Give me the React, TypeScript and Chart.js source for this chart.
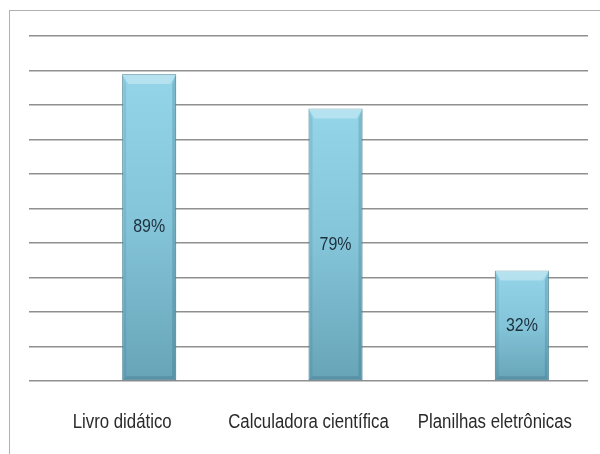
import React, { useEffect, useRef } from "react";
import { Chart, registerables } from "chart.js";

Chart.register(...registerables);

// Categories and percentages shown on the chart
const categories = ["Livro didático", "Calculadora científica", "Planilhas eletrônicas"];
const percentages = [89, 79, 32];
// Empty leading series: pushes each visible bar to the right half of its category slot
const leadingGap: (number | null)[] = [null, null, null];

const Y_MIN = 0;
const Y_MAX = 100;
const Y_STEP = 10;

const FONT = "'Liberation Sans', Arial, sans-serif";
// Horizontal squeeze applied to text, giving a narrow typeface look
const TEXT_SQUEEZE = 0.84;

function drawNarrowText(
  ctx: CanvasRenderingContext2D,
  text: string,
  x: number,
  y: number,
  size: number,
  color: string,
  baseline: CanvasTextBaseline
) {
  ctx.save();
  ctx.translate(x, y);
  ctx.scale(TEXT_SQUEEZE, 1);
  ctx.font = `${size}px ${FONT}`;
  ctx.fillStyle = color;
  ctx.textAlign = "center";
  ctx.textBaseline = baseline;
  ctx.fillText(text, 0, 0);
  ctx.restore();
}

// Bevelled bar edges, the value in the middle of each bar and the category names
const bevelAndLabels = {
  id: "bevelAndLabels",
  afterDatasetsDraw(chart: any) {
    const meta = chart.getDatasetMeta(1);
    const ctx = chart.ctx as CanvasRenderingContext2D;
    meta.data.forEach((bar: any, i: number) => {
      const { x, y, base, width } = bar.getProps(["x", "y", "base", "width"], true);
      const left = x - width / 2;
      const right = x + width / 2;
      const top = y;
      const bottom = base;
      const bt = 10; // top bevel depth
      const bs = 4; // side bevel depth
      ctx.save();
      // top highlight
      ctx.fillStyle = "rgba(255,255,255,0.32)";
      ctx.beginPath();
      ctx.moveTo(left, top);
      ctx.lineTo(right, top);
      ctx.lineTo(right - bs - 2, top + bt);
      ctx.lineTo(left + bs + 2, top + bt);
      ctx.closePath();
      ctx.fill();
      // left edge
      ctx.fillStyle = "rgba(30,80,100,0.12)";
      ctx.beginPath();
      ctx.moveTo(left, top);
      ctx.lineTo(left + bs, top + bt);
      ctx.lineTo(left + bs, bottom - bs);
      ctx.lineTo(left, bottom);
      ctx.closePath();
      ctx.fill();
      // right edge
      ctx.fillStyle = "rgba(30,80,100,0.2)";
      ctx.beginPath();
      ctx.moveTo(right, top);
      ctx.lineTo(right - bs, top + bt);
      ctx.lineTo(right - bs, bottom - bs);
      ctx.lineTo(right, bottom);
      ctx.closePath();
      ctx.fill();
      // bottom edge
      ctx.fillStyle = "rgba(30,80,100,0.22)";
      ctx.beginPath();
      ctx.moveTo(left, bottom);
      ctx.lineTo(left + bs, bottom - bs);
      ctx.lineTo(right - bs, bottom - bs);
      ctx.lineTo(right, bottom);
      ctx.closePath();
      ctx.fill();
      ctx.restore();

      drawNarrowText(ctx, `${percentages[i]}%`, x, (top + bottom) / 2, 19, "#1d2f3d", "middle");
    });

    // category names under the plot, centred on each category
    const xScale = chart.scales.x;
    const labelBaseline = chart.chartArea.bottom + 47;
    categories.forEach((name, i) => {
      drawNarrowText(ctx, name, xScale.getPixelForValue(i), labelBaseline, 20, "#2a2a2a", "alphabetic");
    });
  },
};

export default function App() {
  const canvasRef = useRef<HTMLCanvasElement | null>(null);

  useEffect(() => {
    const canvas = canvasRef.current;
    if (!canvas) return;

    const barFill = (context: any) => {
      const chart = context.chart;
      const yScale = chart.scales?.y;
      const value = context.raw;
      if (!yScale || value == null) return "#84c4d8";
      const top = yScale.getPixelForValue(value);
      const bottom = yScale.getPixelForValue(0);
      if (!isFinite(top) || !isFinite(bottom) || top === bottom) return "#84c4d8";
      const g = chart.ctx.createLinearGradient(0, top, 0, bottom);
      g.addColorStop(0, "#94d5e9");
      g.addColorStop(0.5, "#84c4d8");
      g.addColorStop(1, "#67a4b8");
      return g;
    };

    const chart = new Chart(canvas, {
      type: "bar",
      data: {
        labels: categories,
        datasets: [
          {
            label: "",
            data: leadingGap,
            backgroundColor: "transparent",
          },
          {
            label: "Percentual",
            data: percentages,
            backgroundColor: barFill,
            borderColor: "#5d95a8",
            borderWidth: 1,
            borderSkipped: false,
          },
        ],
      },
      options: {
        responsive: false,
        animation: false,
        events: [],
        layout: {
          padding: { left: 29, right: 12, top: 36, bottom: 73 },
        },
        datasets: {
          bar: {
            categoryPercentage: 0.58,
            barPercentage: 1.0,
          },
        },
        plugins: {
          legend: { display: false },
          tooltip: { enabled: false },
          title: { display: false },
        },
        scales: {
          x: {
            type: "category",
            grid: { display: false, drawTicks: false },
            border: { display: false },
            ticks: { display: false },
          },
          y: {
            min: Y_MIN,
            max: Y_MAX,
            ticks: { display: false, stepSize: Y_STEP },
            grid: { color: "#8f8f8f", lineWidth: 1.5, drawTicks: false },
            border: { display: false },
          },
        },
      },
      plugins: [bevelAndLabels],
    });

    return () => chart.destroy();
  }, []);

  return (
    <div
      style={{
        position: "fixed",
        left: 0,
        top: 0,
        width: 600,
        height: 454,
        background: "#ffffff",
        overflow: "hidden",
      }}
    >
      <div
        style={{
          position: "absolute",
          left: 9,
          top: 10,
          width: 620,
          height: 480,
          borderLeft: "1.5px solid #b0b0b0",
          borderTop: "1.5px solid #b0b0b0",
          boxSizing: "border-box",
        }}
      />
      <canvas
        ref={canvasRef}
        width={600}
        height={454}
        style={{ position: "absolute", left: 0, top: 0 }}
      />
    </div>
  );
}
